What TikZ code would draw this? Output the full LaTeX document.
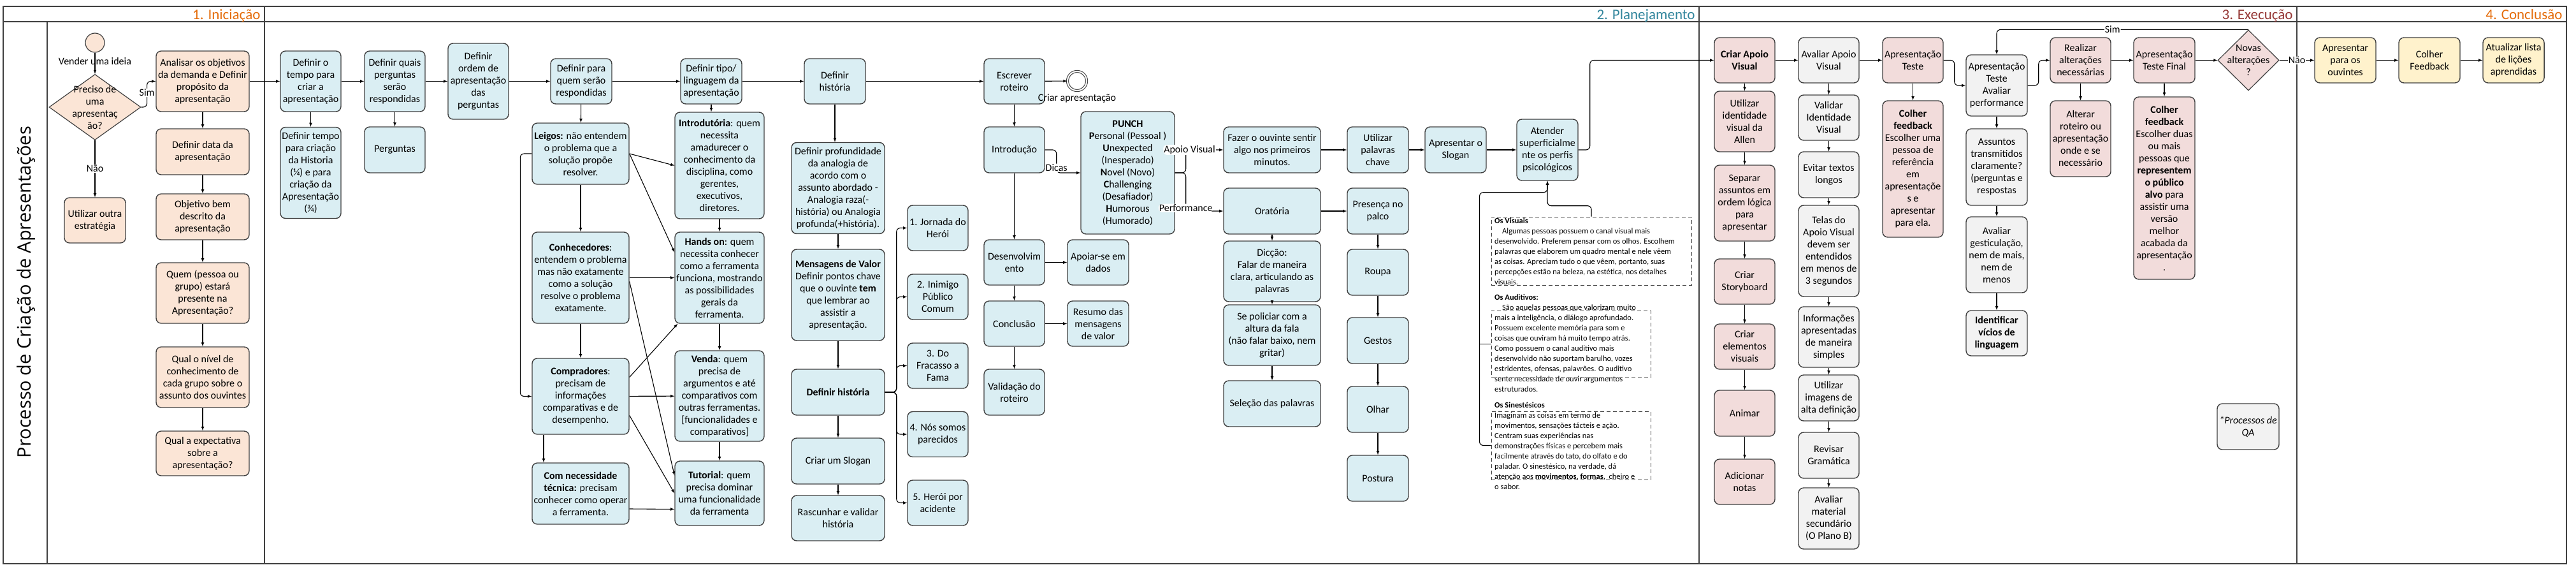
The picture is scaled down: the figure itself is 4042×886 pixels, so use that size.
\documentclass[tikz,border=0pt]{standalone}
\usepackage{fontspec}
\setmainfont{Carlito}
\newfontfamily\titulofont{Open Sans}
\usetikzlibrary{arrows,positioning,shapes,shapes.geometric,calc}

\definecolor{borda}{HTML}{404040}
\definecolor{pessego}{HTML}{FBE5D6}
\definecolor{azulclaro}{HTML}{DAEEF3}
\definecolor{rosa}{HTML}{F2DCDB}
\definecolor{cinza}{HTML}{F2F2F2}
\definecolor{amarelo}{HTML}{FFF2CC}
\definecolor{laranja}{HTML}{E46C0A}
\definecolor{verdeazul}{HTML}{31859C}
\definecolor{vinho}{HTML}{953735}

\begin{document}
\begin{tikzpicture}[x=1pt,y=-1pt,
  every node/.style={font=\fontsize{16}{19}\selectfont,align=center},
  caixa/.style={draw=borda,line width=1.4pt,rounded corners=8pt,minimum width=95pt,minimum height=71pt,inner sep=1pt},
  inic/.style={caixa,fill=pessego},
  plan/.style={caixa,fill=azulclaro},
  exec/.style={caixa,fill=rosa},
  aval/.style={caixa,fill=cinza},
  concl/.style={caixa,fill=amarelo},
  decisao/.style={diamond,draw=borda,line width=1.2pt,inner sep=0pt},
  nota/.style={draw=black!75,line width=1pt,dash pattern=on 6pt off 4pt,inner sep=0pt},
  notatxt/.style={font=\fontsize{12.5}{16}\selectfont,align=left,inner sep=0pt,anchor=north west},
  rotulo/.style={fill=white,inner sep=1pt},
  seta/.style={->,>=latex,line width=1.1pt},
  fase/.style={font=\fontsize{23}{26}\selectfont,anchor=base east},
  moldura/.style={line width=1.5pt,draw=borda}]

    \useasboundingbox (0,0) rectangle (4042,886);

    % raias
    \draw[moldura] (5,10) rectangle (4027,884);
    \draw[moldura] (5,34) -- (4027,34);
    \draw[moldura] (74,34) -- (74,884);
    \foreach \x in {415,2666,3604} \draw[moldura] (\x,10) -- (\x,884);
    \node[fase,text=laranja] (fase1) at (412,30) {1. Iniciação};
    \node[fase,text=verdeazul] (fase2) at (2663,30) {2. Planejamento};
    \node[fase,text=vinho] (fase3) at (3601,30) {3. Execução};
    \node[fase,text=laranja] (fase4) at (4024,30) {4. Conclusão};
    \node[rotate=90,font=\titulofont\fontsize{29}{32}\selectfont] (titulo) at (41,458) {Processo de Criação de Apresentações};

    % 1. Iniciacao
    \node[circle,draw=borda,line width=1.2pt,fill=pessego,minimum size=30pt,inner sep=0pt] (inicio) at (149,67) {};
    \node (vender) at (149,96) {Vender uma ideia};
    \node[decisao,fill=pessego,minimum width=144pt,minimum height=103pt] (precisa) at (149,168) {};
    \node (precisatxt) at (149,169) {Preciso de\\uma\\apresentaç\\ão?};
    \node[inic,minimum width=96pt] (outra) at (149,345.5) {Utilizar outra\\estratégia};
    \node[inic,minimum width=146pt,minimum height=95pt] (analisar) at (318,127.5) {Analisar os objetivos\\da demanda e Definir\\propósito da\\apresentação};
    \node[inic,minimum width=146pt,minimum height=72pt] (datadef) at (318,238) {Definir data da\\apresentação};
    \node[inic,minimum width=146pt,minimum height=72pt] (objetivo) at (318,340) {Objetivo bem\\descrito da\\apresentação};
    \node[inic,minimum width=146pt,minimum height=95pt] (quem) at (318,459.5) {Quem (pessoa ou\\grupo) estará\\presente na\\Apresentação?};
    \node[inic,minimum width=146pt,minimum height=95pt] (nivel) at (318,591.5) {Qual o nível de\\conhecimento de\\cada grupo sobre o\\assunto dos ouvintes};
    \node[inic,minimum width=146pt,minimum height=70pt] (expect) at (318,711) {Qual a expectativa\\sobre a\\apresentação?};

    % 2. Planejamento
    \node[plan,minimum height=95pt] (tempo) at (487.5,127.5) {Definir o\\tempo para\\criar a\\apresentação};
    \node[plan,minimum height=143pt] (tempohist) at (487.5,271) {Definir tempo\\para criação\\da Historia\\(¼) e para\\criação da\\Apresentação\\(¾)};
    \node[plan,minimum height=95pt] (quais) at (619.5,127.5) {Definir quais\\perguntas\\serão\\respondidas};
    \node[plan,minimum height=72pt] (perguntas) at (619.5,235) {Perguntas};
    \node[plan,minimum height=119pt] (ordem) at (750.5,127.5) {Definir\\ordem de\\apresentação\\das\\perguntas};
    \node[plan,minimum width=96pt] (paraquem) at (912,127.5) {Definir para\\quem serão\\respondidas};
    \node[plan,minimum width=152pt,minimum height=96pt] (leigos) at (911,241) {\textbf{Leigos:} não entendem\\o problema que a\\solução propõe\\resolver.};
    \node[plan,minimum width=152pt,minimum height=143pt] (conhec) at (911,435.5) {\textbf{Conhecedores}:\\entendem o problema\\mas não exatamente\\como a solução\\resolve o problema\\exatamente.};
    \node[plan,minimum width=152pt,minimum height=119pt] (compr) at (911,621.5) {\textbf{Compradores}:\\precisam de\\informações\\comparativas e de\\desempenho.};
    \node[plan,minimum width=152pt,minimum height=96pt] (comnec) at (911,774) {\textbf{Com necessidade}\\\textbf{técnica:} precisam\\conhecer como operar\\a ferramenta.};
    \node[plan,minimum width=96pt] (tipo) at (1116,127.5) {Definir tipo/\\linguagem da\\apresentação};
    \node[plan,minimum width=140pt,minimum height=167pt] (intro) at (1129,259.5) {\textbf{Introdutória}: quem\\necessita\\amadurecer o\\conhecimento da\\disciplina, como\\gerentes,\\executivos,\\diretores.};
    \node[plan,minimum width=140pt,minimum height=143pt] (handson) at (1129,435.5) {\textbf{Hands on}: quem\\necessita conhecer\\como a ferramenta\\funciona, mostrando\\as possibilidades\\gerais da\\ferramenta.};
    \node[plan,minimum width=140pt,minimum height=142pt] (venda) at (1129,621) {\textbf{Venda}: quem\\precisa de\\argumentos e até\\comparativos com\\outras ferramentas.\\{[}funcionalidades e\\comparativos{]}};
    \node[plan,minimum width=140pt,minimum height=101pt] (tutorial) at (1129,773.5) {\textbf{Tutorial}: quem\\precisa dominar\\uma funcionalidade\\da ferramenta};
    \node[plan,minimum width=96pt] (historia) at (1310,127.5) {Definir\\história};
    \node[plan,minimum width=146pt,minimum height=143pt] (profund) at (1315,295) {Definir profundidade\\da analogia de\\acordo com o\\assunto abordado -\\Analogia raza(-\\história) ou Analogia\\profunda(+história).};
    \node[plan,minimum width=146pt,minimum height=143pt] (mensagens) at (1315,462.5) {\textbf{Mensagens de Valor}\\Definir pontos chave\\que o ouvinte \textbf{tem}\\que lembrar ao\\assistir a\\apresentação.};
    \node[plan,minimum width=146pt,minimum height=72pt] (defhist) at (1315,615) {\textbf{Definir história}};
    \node[plan,minimum width=146pt,minimum height=72pt] (slogan) at (1315,723) {Criar um Slogan};
    \node[plan,minimum width=146pt] (rascunhar) at (1315,812.5) {Rascunhar e validar\\história};
    \node[plan] (jornada) at (1471.5,357.5) {1. Jornada do\\Herói};
    \node[plan] (inimigo) at (1471.5,465.5) {2. Inimigo\\Público\\Comum};
    \node[plan] (fracasso) at (1471.5,573.5) {3. Do\\Fracasso a\\Fama};
    \node[plan] (parecidos) at (1471.5,681) {4. Nós somos\\parecidos};
    \node[plan] (acidente) at (1471.5,788.5) {5. Herói por\\acidente};
    \node[plan] (roteiro) at (1591.5,127.5) {Escrever\\roteiro};
    \node[circle,draw=borda,line width=1.1pt,double,double distance=2pt,minimum size=30pt,inner sep=0pt] (fim) at (1690,127) {};
    \node (criarap) at (1690,154) {Criar apresentação};
    \node[plan,minimum height=72pt] (introducao) at (1591.5,235) {Introdução};
    \node[plan] (desenv) at (1591.5,411.5) {Desenvolvim\\ento};
    \node[plan,minimum width=96pt] (apoiar) at (1723,411.5) {Apoiar-se em\\dados};
    \node[plan] (conclusao) at (1591.5,507.5) {Conclusão};
    \node[plan,minimum width=96pt] (resumo) at (1723,507.5) {Resumo das\\mensagens\\de valor};
    \node[plan,minimum height=72pt] (validacao) at (1591.5,615) {Validação do\\roteiro};
    \node[plan,minimum width=147pt,minimum height=192pt] (punch) at (1769.5,271) {\textbf{PUNCH}\\\textbf{P}ersonal (Pessoal )\\\textbf{U}nexpected\\(Inesperado)\\\textbf{N}ovel (Novo)\\\textbf{C}hallenging\\(Desafiador)\\\textbf{H}umorous\\(Humorado)};
    \node[plan,minimum width=152pt,minimum height=72pt] (fazer) at (1996,235) {Fazer o ouvinte sentir\\algo nos primeiros\\minutos.};
    \node[plan,minimum width=152pt,minimum height=72pt] (oratoria) at (1996,331) {Oratória};
    \node[plan,minimum width=152pt,minimum height=95pt] (diccao) at (1996,425.5) {Dicção:\\Falar de maneira\\clara, articulando as\\palavras};
    \node[plan,minimum width=152pt,minimum height=95pt] (policiar) at (1996,525.5) {Se policiar com a\\altura da fala\\(não falar baixo, nem\\gritar)};
    \node[plan,minimum width=152pt,minimum height=72pt] (selecao) at (1996,633) {Seleção das palavras};
    \node[plan,minimum width=96pt,minimum height=72pt] (palavras) at (2162,235) {Utilizar\\palavras\\chave};
    \node[plan,minimum width=96pt,minimum height=72pt] (apslogan) at (2284,235) {Apresentar o\\Slogan};
    \node[plan,minimum width=96pt,minimum height=96pt] (atender) at (2428,235) {Atender\\superficialme\\nte os perfis\\psicológicos};
    \node[plan,minimum width=96pt,minimum height=72pt] (presenca) at (2162,331) {Presença no\\palco};
    \node[plan,minimum width=96pt,minimum height=72pt] (roupa) at (2162,427) {Roupa};
    \node[plan,minimum width=96pt,minimum height=72pt] (gestos) at (2162,534) {Gestos};
    \node[plan,minimum width=96pt,minimum height=72pt] (olhar) at (2162,642) {Olhar};
    \node[plan,minimum width=96pt,minimum height=72pt] (postura) at (2162,750) {Postura};

    % perfis psicologicos
    \node[nota,minimum width=314pt,minimum height=107pt] (visbox) at (2497,393.5) {};
    \node[nota,minimum width=250pt,minimum height=105pt] (audbox) at (2465,539.5) {};
    \node[nota,minimum width=250pt,minimum height=107pt] (sinbox) at (2465,698.5) {};
    \node[notatxt] (vistxt) at (2345,341.5) {\textbf{Os Visuais}\\
      \hspace*{12pt}Algumas pessoas possuem o canal visual mais\\
      desenvolvido. Preferem pensar com os olhos. Escolhem\\
      palavras que elaborem um quadro mental e nele vêem\\
      as coisas. Apreciam tudo o que vêem, portanto, suas\\
      percepções estão na beleza, na estética, nos detalhes\\
      visuais.};
    \node[notatxt] (audtxt) at (2345,461.5) {\textbf{Os Auditivos:}\\
      \hspace*{12pt}São aquelas pessoas que valorizam muito\\
      mais a inteligência, o diálogo aprofundado.\\
      Possuem excelente memória para som e\\
      coisas que ouviram há muito tempo atrás.\\
      Como possuem o canal auditivo mais\\
      desenvolvido não suportam barulho, vozes\\
      estridentes, ofensas, palavrões. O auditivo\\
      sente necessidade de ouvir argumentos\\
      estruturados.};
    \node[notatxt] (sintxt) at (2345,630.5) {\textbf{Os Sinestésicos}\\
      Imaginam as coisas em termo de\\
      movimentos, sensações tácteis e ação.\\
      Centram suas experiências nas\\
      demonstrações físicas e percebem mais\\
      facilmente através do tato, do olfato e do\\
      paladar. O sinestésico, na verdade, dá\\
      atenção aos \textbf{movimentos}, \textbf{formas},\ \ cheiro e\\
      o sabor.};

    % 3. Execucao
    \node[exec] (criarav) at (2737.5,94.5) {\textbf{Criar Apoio}\\\textbf{Visual}};
    \node[exec,minimum height=95pt] (identidade) at (2737.5,190.5) {Utilizar\\identidade\\visual da\\Allen};
    \node[exec,minimum height=119pt] (separar) at (2737.5,318.5) {Separar\\assuntos em\\ordem lógica\\para\\apresentar};
    \node[exec] (storyboard) at (2737.5,441.5) {Criar\\Storyboard};
    \node[exec] (elementos) at (2737.5,543.5) {Criar\\elementos\\visuais};
    \node[exec,minimum height=72pt] (animar) at (2737.5,648) {Animar};
    \node[exec] (notas) at (2737.5,755.5) {Adicionar\\notas};
    \node[aval] (avaliarav) at (2869.5,94.5) {Avaliar Apoio\\Visual};
    \node[aval] (validar) at (2869.5,184.5) {Validar\\Identidade\\Visual};
    \node[aval,minimum height=72pt] (evitar) at (2869.5,274) {Evitar textos\\longos};
    \node[aval,minimum height=143pt] (telas) at (2869.5,393.5) {Telas do\\Apoio Visual\\devem ser\\entendidos\\em menos de\\3 segundos};
    \node[aval,minimum height=95pt] (informacoes) at (2869.5,528.5) {Informações\\apresentadas\\de maneira\\simples};
    \node[aval,minimum height=72pt] (imagens) at (2869.5,624) {Utilizar\\imagens de\\alta definição};
    \node[aval,minimum height=72pt] (gramatica) at (2869.5,714) {Revisar\\Gramática};
    \node[aval,minimum height=96pt] (planob) at (2869.5,813) {Avaliar\\material\\secundário\\(O Plano B)};
    \node[exec] (teste) at (3001.5,94.5) {Apresentação\\Teste};
    \node[exec,minimum height=214pt] (feedback1) at (3001.5,265) {\textbf{Colher}\\\textbf{feedback}\\Escolher uma\\pessoa de\\referência\\em\\apresentaçõe\\s e\\apresentar\\para ela.};
    \node[aval,minimum width=96pt,minimum height=96pt] (apav) at (3133,134) {Apresentação\\Teste\\Avaliar\\performance};
    \node[aval,minimum width=96pt,minimum height=120pt] (assuntos) at (3133,262) {Assuntos\\transmitidos\\claramente?\\(perguntas e\\respostas};
    \node[aval,minimum width=96pt,minimum height=119pt] (gestic) at (3133,399.5) {Avaliar\\gesticulação,\\nem de mais,\\nem de\\menos};
    \node[aval,minimum width=96pt] (vicios) at (3133,522.5) {\textbf{Identificar}\\\textbf{vícios de}\\\textbf{linguagem}};
    \node[exec] (realizar) at (3264.5,94.5) {Realizar\\alterações\\necessárias};
    \node[exec,minimum height=119pt] (alterar) at (3264.5,217.5) {Alterar\\roteiro ou\\apresentação\\onde e se\\necessário};
    \node[exec,minimum width=96pt] (final) at (3396,94.5) {Apresentação\\Teste Final};
    \node[exec,minimum width=96pt,minimum height=286pt] (feedback2) at (3396,295) {\textbf{Colher}\\\textbf{feedback}\\Escolher duas\\ou mais\\pessoas que\\\textbf{representem}\\\textbf{o público}\\\textbf{alvo} para\\assistir uma\\versão\\melhor\\acabada da\\apresentação\\.};
    \node[decisao,fill=rosa,minimum width=96pt,minimum height=95pt] (novas) at (3528,94.5) {};
    \node (novastxt) at (3528,94.5) {Novas\\alterações\\?};
    \node[aval,minimum width=97pt,minimum height=72pt] (qa) at (3527.5,669) {\textit{*Processos de}\\\textit{QA}};

    % 4. Conclusao
    \node[concl,minimum width=96pt] (apresentar) at (3680,94.5) {Apresentar\\para os\\ouvintes};
    \node[concl,minimum width=96pt] (colher) at (3812,94.5) {Colher\\Feedback};
    \node[concl,minimum width=96pt] (atualizar) at (3944,94.5) {Atualizar lista\\de lições\\aprendidas};

    % conectores
    \draw[seta] (inicio) -- (precisa);
    \draw[seta] (precisa) -- node[rotulo] {Não} (outra);
    \draw[seta,rounded corners=6pt] (precisa.east) -- ++(9,0) |- node[rotulo,pos=0.28] {Sim} (analisar.west);
    \foreach \a/\b in {analisar/datadef,datadef/objetivo,objetivo/quem,quem/nivel,nivel/expect,
      analisar/tempo,tempo/quais,quais/ordem,ordem/paraquem,paraquem/tipo,tipo/historia,historia/roteiro,roteiro/fim,
      tempo/tempohist,quais/perguntas,paraquem/leigos,leigos/conhec,conhec/compr,
      intro/handson,handson/venda,venda/tutorial,conhec/handson,compr/venda,
      profund/mensagens,mensagens/defhist,defhist/slogan,slogan/rascunhar,
      roteiro/introducao,introducao/desenv,desenv/conclusao,conclusao/validacao,desenv/apoiar,conclusao/resumo,
      oratoria/diccao,diccao/policiar,policiar/selecao,oratoria/presenca,
      presenca/roupa,roupa/gestos,gestos/olhar,olhar/postura,
      fazer/palavras,palavras/apslogan,apslogan/atender}
      \draw[seta] (\a) -- (\b);
    \draw[seta] (tipo) -- (tipo |- intro.north);
    \draw[seta] (historia) -- (historia |- profund.north);
    \draw[seta] ($(compr.south)+(-58,0)$) -- ($(comnec.north)+(-58,0)$);
    \draw[seta,rounded corners=6pt] (leigos.west) -- ++(-18,0) |- (compr.west);
    \draw[seta] (leigos.east) -- (intro.west);
    \draw[seta] (leigos.east) -- ($(handson.west)+(0,-40)$);
    \draw[seta] ($(conhec.east)+(0,6)$) -- ($(tutorial.west)+(0,-28)$);
    \draw[seta] ($(compr.east)+(0,-30)$) -- ($(handson.south west)+(5,0)$);
    \draw[seta] ($(compr.east)+(0,30)$) -- (tutorial.west);
    \draw[seta] ($(comnec.east)+(0,24)$) -- ($(tutorial.west)+(0,25)$);
    \foreach \n in {jornada,inimigo,fracasso,parecidos,acidente}
      \draw[seta,rounded corners=6pt] (defhist.east) -- ++(18,0) |- (\n.west);
    \draw[seta,rounded corners=6pt] (introducao.east) -- ++(18,0) |- node[rotulo,pos=0.39] {Dicas} (punch.west);
    \draw[seta,rounded corners=6pt] (punch.east) -- ++(17,0) |- node[rotulo,pos=0.55] {Apoio Visual} (fazer.west);
    \draw[seta,rounded corners=6pt] (punch.east) -- ++(17,0) |- node[rotulo,pos=0.46] {Performance} (oratoria.west);
    \draw[seta,rounded corners=6pt] (visbox.north) |- ($(atender.south)+(0,39)$) -- (atender.south);
    \draw[seta,rounded corners=6pt] (sinbox.west) -- ++(-18,0) |- ($(atender.south)+(0,18)$) -- (atender.south);
    \draw[rounded corners=6pt,line width=1.1pt] (audbox.west) -- ++(-18,0);
    \draw[seta,rounded corners=6pt] (atender.east) -- ++(18,0) |- (criarav.west);
    \foreach \a/\b in {criarav/avaliarav,avaliarav/teste,realizar/final,final/novas,apresentar/colher,colher/atualizar,
      criarav/identidade,identidade/separar,separar/storyboard,storyboard/elementos,elementos/animar,animar/notas,
      avaliarav/validar,validar/evitar,evitar/telas,telas/informacoes,informacoes/imagens,imagens/gramatica,gramatica/planob,
      teste/feedback1,apav/assuntos,assuntos/gestic,gestic/vicios,realizar/alterar,final/feedback2}
      \draw[seta] (\a) -- (\b);
    \draw[seta,rounded corners=6pt] (teste.east) -- ++(17,0) |- (apav.west);
    \draw[seta,rounded corners=6pt] (apav.east) -- ++(17,0) |- (realizar.west);
    \draw[seta] (novas) -- node[rotulo] {Não} (apresentar);
    \draw[seta,rounded corners=6pt] (novas.north) -| node[rotulo,pos=0.27] {Sim} (apav.north);

\end{tikzpicture}
\end{document}
